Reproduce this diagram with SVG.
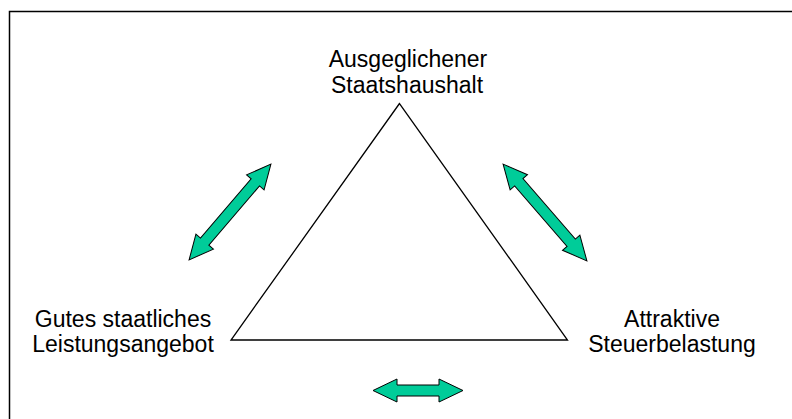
<svg xmlns="http://www.w3.org/2000/svg" width="792" height="419" viewBox="0 0 792 419">
  <style>
    .label { font-family: "Liberation Sans", Arial, sans-serif; font-size: 23px; fill: #000; text-anchor: middle; }
    .arrow { fill: #00CC99; stroke: #000; stroke-width: 1; stroke-linejoin: miter; }
    .frame { fill: #fff; stroke: #000; stroke-width: 1.5; }
    .tri { fill: #fff; stroke: #000; stroke-width: 1.3; stroke-linejoin: miter; }
  </style>
  <rect width="792" height="419" fill="#fff"/>
  <rect class="frame" x="9.5" y="11.5" width="800" height="420"/>

  <g id="dreieck">
    <polygon class="tri" points="399.5,103.5 231,340 567.5,340"/>
  </g>

  <g id="staatshaushalt">
    <text class="label" x="408" y="67">Ausgeglichener</text>
    <text class="label" x="407" y="93">Staatshaushalt</text>
  </g>
  <g id="leistungsangebot">
    <text class="label" x="123" y="327">Gutes staatliches</text>
    <text class="label" x="123" y="352">Leistungsangebot</text>
  </g>
  <g id="steuerbelastung">
    <text class="label" x="672" y="327">Attraktive</text>
    <text class="label" x="672" y="352">Steuerbelastung</text>
  </g>

  <g id="connectors">
    <polygon class="arrow" transform="translate(230,212) rotate(-49.5)"
      points="-63,0 -39,-11.5 -39,-5.5 39,-5.5 39,-11.5 63,0 39,11.5 39,5.5 -39,5.5 -39,11.5"/>
    <polygon class="arrow" transform="translate(545,212.5) rotate(49.1)"
      points="-64,0 -40,-11.5 -40,-5.5 40,-5.5 40,-11.5 64,0 40,11.5 40,5.5 -40,5.5 -40,11.5"/>
    <polygon class="arrow" transform="translate(418,390.5)"
      points="-45,0 -21,-11.5 -21,-5.5 21,-5.5 21,-11.5 45,0 21,11.5 21,5.5 -21,5.5 -21,11.5"/>
  </g>
</svg>
